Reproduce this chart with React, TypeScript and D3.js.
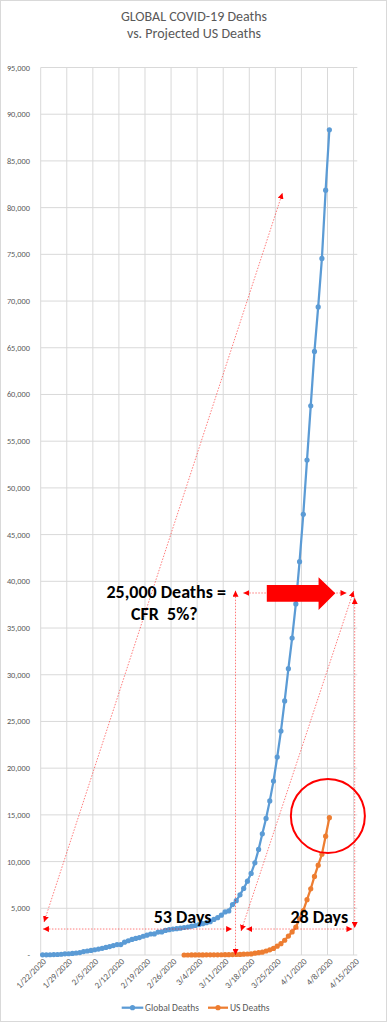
import React from 'react';
import * as d3 from 'd3';

const W = 388;
const H = 1024;

const titleLines = ['GLOBAL COVID-19 Deaths', 'vs. Projected US Deaths'];
const seriesNames = ['Global Deaths', 'US Deaths'];
const seriesColors = ['#5B9BD5', '#ED7D31'];

const globalStart = '1/22/2020';
const globalDeaths = [
  17, 18, 26, 42, 56, 82, 131, 133, 171, 213,
  259, 362, 426, 492, 564, 634, 719, 806, 906, 1013,
  1113, 1118, 1371, 1523, 1666, 1770, 1868, 2007, 2122, 2247,
  2251, 2458, 2469, 2629, 2708, 2770, 2814, 2872, 2941,
  2996, 3085, 3160, 3254, 3348, 3460, 3558, 3803, 3996, 4262,
  4615, 4720, 5404, 5819, 6440, 7126, 7905, 8733, 9867, 11299,
  12973, 14623, 16497, 18615, 21181, 23970, 27198, 30652, 33925, 37582,
  42107, 47180, 52983, 58787, 64606, 69374, 74565, 81865, 88338,
];

const usStart = '2/29/2020';
const usDeaths = [
  1,
  1, 6, 7, 11, 12, 14, 17, 21, 22, 28,
  36, 40, 47, 54, 63, 85, 108, 118, 200, 244,
  307, 427, 552, 706, 942, 1209, 1581, 2026, 2467, 2978,
  3873, 4757, 5926, 7087, 8407, 9619, 10783, 12722, 14695,
];

const xTickLabels = [
  '1/22/2020', '1/29/2020', '2/5/2020', '2/12/2020', '2/19/2020', '2/26/2020',
  '3/4/2020', '3/11/2020', '3/18/2020', '3/25/2020', '4/1/2020', '4/8/2020', '4/15/2020',
];
const yTickValues = [
  0, 5000, 10000, 15000, 20000, 25000, 30000, 35000, 40000, 45000,
  50000, 55000, 60000, 65000, 70000, 75000, 80000, 85000, 90000, 95000,
];

// annotations, in data units: day offset from 1/22/2020 and deaths
const dottedArrows = [
  { d1: 0.9, v1: 3530, d2: 64.9, v2: 81570 },
  { d1: 0.6, v1: 2780, d2: 51.4, v2: 2780 },
  { d1: 52.3, v1: 39000, d2: 52.3, v2: 0 },
  { d1: 54.4, v1: 38750, d2: 82.1, v2: 38750 },
  { d1: 53.8, v1: 2570, d2: 84.0, v2: 38960 },
  { d1: 84.3, v1: 38210, d2: 84.3, v2: 2890 },
  { d1: 55.2, v1: 2780, d2: 83.7, v2: 2780 },
];
const bigArrow = {
  dLeft: 60.7, dHeadBase: 74.6, dTip: 79.1,
  vShaftTop: 39600, vShaftBottom: 37820, vHeadTop: 40430, vHeadBottom: 36940, vMid: 38720,
};
const circleNote = { d: 77.1, v: 14880 };
const noteTexts = [
  { text: '25,000 Deaths =', d: 33.7, v: 38210 },
  { text: 'CFR  5%?', d: 33.2, v: 35860 },
  { text: '53 Days', d: 38.1, v: 3425 },
  { text: '28 Days', d: 74.8, v: 3425 },
];

const parse = d3.utcParse('%m/%d/%Y');

export default function App() {
  const t0 = parse(globalStart) as Date;
  const dayOf = (s: string) => d3.utcDay.count(t0, parse(s) as Date);
  const lastDay = dayOf(xTickLabels[xTickLabels.length - 1]) + 1;

  const x = d3.scaleLinear().domain([0, lastDay]).range([40.7, 357.3]);
  const y = d3.scaleLinear().domain([0, 95000]).range([955, 67.5]);

  const gStart = dayOf(globalStart);
  const uStart = dayOf(usStart);
  const gPts: [number, number][] = globalDeaths.map((v, i) => [x(gStart + i + 0.5), y(v)]);
  const uPts: [number, number][] = usDeaths.map((v, i) => [x(uStart + i + 0.5), y(v)]);
  const line = d3.line();

  const font = 'Calibri, Carlito, Lato, "Open Sans", sans-serif';
  const gray = '#595959';
  const grid = '#d9d9d9';

  const a = bigArrow;
  const arrowPts = [
    [x(a.dLeft), y(a.vShaftTop)],
    [x(a.dHeadBase), y(a.vShaftTop)],
    [x(a.dHeadBase), y(a.vHeadTop)],
    [x(a.dTip), y(a.vMid)],
    [x(a.dHeadBase), y(a.vHeadBottom)],
    [x(a.dHeadBase), y(a.vShaftBottom)],
    [x(a.dLeft), y(a.vShaftBottom)],
  ].map((p) => p.join(',')).join(' ');

  return (
    <svg width={W} height={H} style={{ position: 'absolute', left: 0, top: 0, background: '#fff' }}>
      <defs>
        <marker id="tri" viewBox="0 0 10 10" refX="10" refY="5" markerWidth="6" markerHeight="6"
          markerUnits="userSpaceOnUse" orient="auto-start-reverse">
          <path d="M0,0 L10,5 L0,10 Z" fill="#ff0000" />
        </marker>
      </defs>
      <rect x={0.5} y={0.5} width={W - 2} height={H - 3} fill="#fff" stroke={grid} />
      {titleLines.map((t, i) => (
        <text key={t} x={194} y={21 + i * 17} textAnchor="middle" fontFamily={font} fontSize={14} fill={gray}>{t}</text>
      ))}
      {/* horizontal gridlines */}
      {yTickValues.map((v) => (
        <line key={'h' + v} x1={x(0)} x2={x(lastDay)} y1={y(v)} y2={y(v)} stroke={grid} strokeWidth={1} />
      ))}
      {/* vertical gridlines */}
      {xTickLabels.map((s) => (
        <line key={'v' + s} x1={x(dayOf(s))} x2={x(dayOf(s))} y1={y(95000)} y2={y(0)} stroke={grid} strokeWidth={1} />
      ))}
      {/* y labels */}
      {yTickValues.map((v) => (
        <text key={'yl' + v} x={30} y={y(v) + 3} textAnchor="end" fontFamily={font} fontSize={8.3} fill={gray}>
          {v === 0 ? '-' : d3.format(',')(v)}
        </text>
      ))}
      {/* x labels */}
      {xTickLabels.map((s) => {
        const px = x(dayOf(s)) + 6;
        const py = 962;
        return (
          <text key={'xl' + s} x={px} y={py} textAnchor="end" transform={`rotate(-45 ${px} ${py})`}
            fontFamily={font} fontSize={8.8} fill={gray}>{s}</text>
        );
      })}
      {/* series */}
      <path d={line(gPts) || ''} fill="none" stroke={seriesColors[0]} strokeWidth={2.25} />
      {gPts.map((p, i) => <circle key={'g' + i} cx={p[0]} cy={p[1]} r={2.6} fill={seriesColors[0]} />)}
      <path d={line(uPts) || ''} fill="none" stroke={seriesColors[1]} strokeWidth={2.25} />
      {uPts.map((p, i) => <circle key={'u' + i} cx={p[0]} cy={p[1]} r={2.6} fill={seriesColors[1]} />)}
      {/* dotted annotation arrows */}
      {dottedArrows.map((d, i) => (
        <line key={'da' + i} x1={x(d.d1)} y1={y(d.v1)} x2={x(d.d2)} y2={y(d.v2)}
          stroke="#ff0000" strokeOpacity={0.65} strokeWidth={0.8} strokeDasharray="1.5 1.5"
          markerStart="url(#tri)" markerEnd="url(#tri)" />
      ))}
      <polygon points={arrowPts} fill="#ff0000" />
      <circle cx={x(circleNote.d)} cy={y(circleNote.v)} r={37} fill="none" stroke="#ff0000" strokeWidth={2} />
      {noteTexts.map((n) => (
        <text key={n.text} x={x(n.d)} y={y(n.v)} textAnchor="middle" fontFamily={font} fontWeight="bold"
          fontSize={18} fill="#000" style={{ whiteSpace: 'pre' }}>{n.text}</text>
      ))}
      {/* legend */}
      <line x1={121.7} x2={143.3} y1={1007.7} y2={1007.7} stroke={seriesColors[0]} strokeWidth={2.25} />
      <circle cx={132.5} cy={1007.7} r={2.6} fill={seriesColors[0]} />
      <text x={145} y={1011} fontFamily={font} fontSize={9.5} fill={gray}>{seriesNames[0]}</text>
      <line x1={208} x2={228} y1={1007.7} y2={1007.7} stroke={seriesColors[1]} strokeWidth={2.25} />
      <circle cx={218} cy={1007.7} r={2.6} fill={seriesColors[1]} />
      <text x={230} y={1011} fontFamily={font} fontSize={9.5} fill={gray}>{seriesNames[1]}</text>
    </svg>
  );
}
